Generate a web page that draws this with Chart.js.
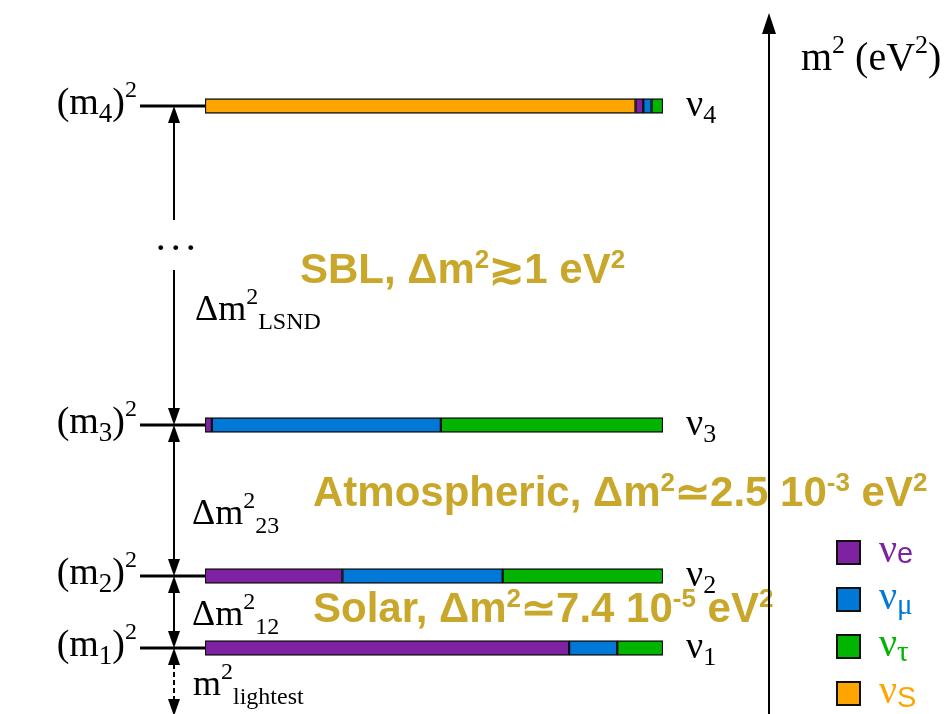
<!DOCTYPE html>
<html>
<head>
<meta charset="utf-8">
<script src="https://cdn.jsdelivr.net/npm/chart.js@4.4.1/dist/chart.umd.min.js"></script>
<style>
  html, body { margin: 0; padding: 0; background: #ffffff; }
  #wrap { width: 946px; height: 714px; position: relative; }
</style>
</head>
<body>
<div id="wrap"><canvas id="chart" width="946" height="714"></canvas></div>
<script>
// Mass eigenstates ν1..ν4 (subscripts) and their schematic m² level on the vertical axis
const massStates = ['1', '2', '3', '4'];
const levels = [9.24, 19.33, 40.48, 85.15];

// Flavour content |U_αi|² of each mass state (ν1, ν2, ν3, ν4)
const fracS   = [0,     0,    0,     0.940];
const fracE   = [0.795, 0.30, 0.015, 0.017];
const fracMu  = [0.105, 0.35, 0.500, 0.018];
const fracTau = [0.100, 0.35, 0.485, 0.025];

// Flavour labels (subscripts of ν) in legend order
const flavourSubs = ['e', 'μ', 'τ', 'S'];

// Mass splitting labels
const splitSubs = ['LSND', '23', '12', 'lightest'];

// Band annotations
const bandSBL   = ['SBL, Δm', '2', '≳1 eV', '2'];
const bandAtm   = ['Atmospheric, Δm', '2', '≃2.5 10', '-3', ' eV', '2'];
const bandSolar = ['Solar, Δm', '2', '≃7.4 10', '-5', ' eV', '2'];

const COL = { e: '#7e22a2', mu: '#0078d7', tau: '#00b400', s: '#ffa500' };
const GOLD = '#c8a72a';
const SERIF = '"Liberation Serif", "Times New Roman", serif';
const SANS = '"Liberation Sans", Arial, sans-serif';

// Stack order along each bar: sterile first, then e, μ, τ
const stackOrder = [
  { name: 'νs', frac: fracS,   color: COL.s },
  { name: 'νe', frac: fracE,   color: COL.e },
  { name: 'νμ', frac: fracMu,  color: COL.mu },
  { name: 'ντ', frac: fracTau, color: COL.tau }
];

const starts = levels.map(() => 0);
const datasets = stackOrder.map(f => {
  const data = [];
  levels.forEach((lv, i) => {
    const a = starts[i];
    const b = a + f.frac[i];
    starts[i] = b;
    if (f.frac[i] > 0) data.push({ x: [a, b], y: lv });
  });
  return {
    label: f.name,
    data: data,
    backgroundColor: f.color,
    borderColor: '#111111',
    borderWidth: 1.5,
    borderSkipped: false,
    barThickness: 15,
    grouped: false
  };
});

function rich(ctx, x, y, parts, align) {
  let total = 0;
  parts.forEach(p => {
    ctx.font = `${p.w || 'normal'} ${p.s}px ${p.f}`;
    total += ctx.measureText(p.t).width + (p.gap || 0);
  });
  if (align === 'right') x -= total;
  ctx.textAlign = 'left';
  ctx.textBaseline = 'alphabetic';
  parts.forEach(p => {
    ctx.font = `${p.w || 'normal'} ${p.s}px ${p.f}`;
    ctx.fillStyle = p.c || '#000';
    ctx.fillText(p.t, x, y + (p.dy || 0));
    x += ctx.measureText(p.t).width + (p.gap || 0);
  });
}

function arrowHead(ctx, x, tipY, dir, len, half) {
  // dir = 1: pointing down, dir = -1: pointing up
  ctx.fillStyle = '#000';
  ctx.beginPath();
  ctx.moveTo(x, tipY);
  ctx.lineTo(x - half, tipY - dir * len);
  ctx.lineTo(x + half, tipY - dir * len);
  ctx.closePath();
  ctx.fill();
}

function vline(ctx, x, y0, y1, dash) {
  ctx.save();
  ctx.strokeStyle = '#000';
  if (dash) ctx.setLineDash(dash);
  ctx.beginPath();
  ctx.moveTo(x, y0);
  ctx.lineTo(x, y1);
  ctx.stroke();
  ctx.restore();
}

function goldBand(ctx, x, y, segs, size) {
  const parts = segs.map((t, i) => i % 2 === 0
    ? { t, s: size, f: SANS, w: 'bold', c: GOLD }
    : { t, s: Math.round(size * 0.62), f: SANS, w: 'bold', c: GOLD, dy: -Math.round(size * 0.36) });
  rich(ctx, x, y, parts);
}

const levelDiagram = {
  id: 'levelDiagram',
  afterDatasetsDraw(chart) {
    const ctx = chart.ctx;
    const ys = levels.map(v => chart.scales.y.getPixelForValue(v));
    const [y1, y2, y3, y4] = ys;
    const xa = 174;
    ctx.save();
    ctx.fillStyle = '#000';
    ctx.strokeStyle = '#000';

    // level ticks
    ctx.lineWidth = 3;
    ys.forEach(y => {
      ctx.beginPath();
      ctx.moveTo(140, y);
      ctx.lineTo(205, y);
      ctx.stroke();
    });

    // splitting arrows
    ctx.lineWidth = 2;
    vline(ctx, xa, y4 + 10, 220);
    vline(ctx, xa, 270, y3 - 10);
    vline(ctx, xa, y3 + 10, y2 - 10);
    vline(ctx, xa, y2 + 10, y1 - 10);
    vline(ctx, xa, y1 + 16, 700, [5, 3]);
    arrowHead(ctx, xa, y4, -1, 17, 6);
    arrowHead(ctx, xa, y3, 1, 17, 6);
    arrowHead(ctx, xa, y3, -1, 17, 6);
    arrowHead(ctx, xa, y2, 1, 17, 6);
    arrowHead(ctx, xa, y2, -1, 17, 6);
    arrowHead(ctx, xa, y1, 1, 17, 6);
    arrowHead(ctx, xa, y1, -1, 17, 6);
    arrowHead(ctx, xa, 716, 1, 17, 6);

    // ellipsis on the broken LSND arrow
    rich(ctx, 157, 250, [{ t: '. . .', s: 30, f: SERIF, w: 'bold' }]);

    // (m_i)² labels
    ys.forEach((y, i) => {
      rich(ctx, 137, y + 8, [
        { t: '(m', s: 38, f: SERIF },
        { t: massStates[i], s: 27, f: SERIF, dy: 8 },
        { t: ')', s: 38, f: SERIF },
        { t: '2', s: 24, f: SERIF, dy: -17 }
      ], 'right');
    });

    // ν_i labels right of the bars
    ys.forEach((y, i) => {
      rich(ctx, 686, y + 10, [
        { t: 'ν', s: 38, f: SERIF },
        { t: massStates[i], s: 26, f: SERIF, dy: 7 }
      ]);
    });

    // Δm² labels
    const dm = (x, y, sub, delta) => rich(ctx, x, y, [
      { t: delta ? 'Δm' : 'm', s: 36, f: SERIF },
      { t: '2', s: 24, f: SERIF, dy: -16 },
      { t: sub, s: 24, f: SERIF, dy: 9 }
    ]);
    dm(195, 320, splitSubs[0], true);
    dm(192, 524, splitSubs[1], true);
    dm(192, 625, splitSubs[2], true);
    dm(193, 695, splitSubs[3], false);

    // band annotations
    goldBand(ctx, 300, 283, bandSBL, 42);
    goldBand(ctx, 313, 506, bandAtm, 42);
    goldBand(ctx, 313, 622, bandSolar, 42);

    // m² axis
    ctx.lineWidth = 2;
    vline(ctx, 769, 30, 714);
    arrowHead(ctx, 769, 13, -1, 21, 7);
    rich(ctx, 801, 70, [
      { t: 'm', s: 40, f: SERIF },
      { t: '2', s: 26, f: SERIF, dy: -17 },
      { t: ' (eV', s: 40, f: SERIF },
      { t: '2', s: 26, f: SERIF, dy: -17 },
      { t: ')', s: 40, f: SERIF }
    ]);

    // flavour legend
    const legCols = [COL.e, COL.mu, COL.tau, COL.s];
    flavourSubs.forEach((sub, i) => {
      const top = 541 + 47 * i;
      ctx.fillStyle = legCols[i];
      ctx.fillRect(837, top, 23, 23);
      ctx.lineWidth = 2;
      ctx.strokeStyle = '#111';
      ctx.strokeRect(837, top, 23, 23);
      const latin = (sub === 'e' || sub === 'S');
      rich(ctx, 879, top + 21, [
        { t: 'ν', s: 40, f: SERIF, c: legCols[i] },
        { t: sub, s: 29, f: latin ? SANS : SERIF, c: legCols[i], dy: latin ? (sub === 'S' ? 4 : 1) : 5 }
      ]);
    });
    ctx.restore();
  }
};

new Chart(document.getElementById('chart'), {
  type: 'bar',
  data: { datasets },
  options: {
    indexAxis: 'y',
    responsive: false,
    animation: false,
    layout: { padding: { left: 205, right: 283, top: 0, bottom: 0 } },
    scales: {
      x: { type: 'linear', min: 0, max: 1, display: false, offset: false },
      y: { type: 'linear', min: 0, max: 100, display: false, offset: false }
    },
    plugins: { legend: { display: false }, tooltip: { enabled: false } }
  },
  plugins: [levelDiagram]
});
</script>
</body>
</html>
